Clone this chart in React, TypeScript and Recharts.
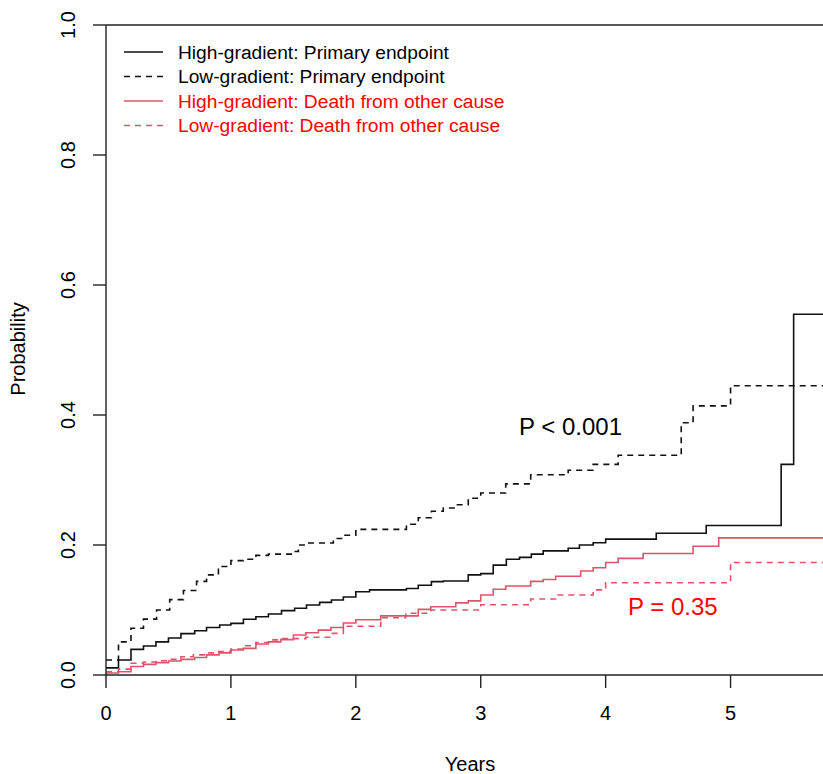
import React from 'react';
import { LineChart, Line, XAxis, YAxis, ReferenceLine, Customized } from 'recharts';

// cumulative incidence, step functions (value holds from t until next t)
const hiPrimT = [0, 0.1, 0.2, 0.3, 0.4, 0.5, 0.6, 0.71, 0.805, 0.91, 1.0, 1.1, 1.2, 1.3, 1.405, 1.51, 1.605, 1.71, 1.805, 1.9, 2.0, 2.11, 2.405, 2.5, 2.605, 2.7, 2.9, 3.0, 3.1, 3.205, 3.31, 3.405, 3.5, 3.7, 3.79, 3.9, 4.0, 4.405, 4.805, 5.405, 5.505, 5.74];
const hiPrimV = [0.011, 0.023, 0.0395, 0.0446, 0.051, 0.057, 0.0636, 0.068, 0.073, 0.077, 0.0795, 0.0857, 0.0897, 0.0938, 0.099, 0.1026, 0.1077, 0.1118, 0.1154, 0.12, 0.128, 0.131, 0.133, 0.138, 0.1436, 0.1446, 0.154, 0.156, 0.169, 0.178, 0.181, 0.186, 0.191, 0.195, 0.2, 0.2035, 0.209, 0.218, 0.23, 0.324, 0.555, 0.555];

const loPrimT = [0, 0.1, 0.2, 0.3, 0.405, 0.51, 0.62, 0.725, 0.805, 0.9, 1.0, 1.1, 1.2, 1.3, 1.5, 1.54, 1.6, 1.82, 1.9, 2.0, 2.405, 2.5, 2.605, 2.7, 2.8, 2.9, 3.0, 3.2, 3.4, 3.7, 3.9, 4.1, 4.605, 4.7, 5.0, 5.74];
const loPrimV = [0.023, 0.051, 0.072, 0.086, 0.1, 0.116, 0.13, 0.144, 0.154, 0.167, 0.176, 0.178, 0.184, 0.186, 0.19, 0.2, 0.203, 0.21, 0.215, 0.224, 0.232, 0.242, 0.252, 0.257, 0.262, 0.272, 0.28, 0.294, 0.308, 0.315, 0.324, 0.338, 0.388, 0.414, 0.445, 0.445];

const hiOtherT = [0, 0.1, 0.2, 0.3, 0.4, 0.5, 0.6, 0.71, 0.805, 0.905, 1.0, 1.1, 1.2, 1.3, 1.4, 1.5, 1.6, 1.7, 1.8, 1.9, 2.0, 2.2, 2.5, 2.6, 2.8, 2.9, 3.0, 3.1, 3.2, 3.4, 3.5, 3.6, 3.8, 3.9, 4.0, 4.1, 4.3, 4.7, 4.905, 5.74];
const hiOtherV = [0.003, 0.005, 0.013, 0.0164, 0.019, 0.0215, 0.024, 0.027, 0.031, 0.034, 0.0385, 0.041, 0.0477, 0.051, 0.0544, 0.0615, 0.065, 0.069, 0.073, 0.08, 0.085, 0.091, 0.101, 0.105, 0.111, 0.114, 0.123, 0.132, 0.137, 0.144, 0.147, 0.152, 0.16, 0.165, 0.173, 0.1795, 0.187, 0.198, 0.211, 0.211];

const loOtherT = [0, 0.1, 0.2, 0.3, 0.4, 0.5, 0.6, 0.7, 0.8, 0.9, 1.0, 1.1, 1.2, 1.3, 1.4, 1.6, 1.8, 1.9, 2.2, 2.4, 2.6, 3.0, 3.4, 3.6, 3.9, 4.0, 5.0, 5.74];
const loOtherV = [0.005, 0.009, 0.018, 0.02, 0.022, 0.024, 0.028, 0.031, 0.034, 0.036, 0.04, 0.045, 0.05, 0.054, 0.056, 0.058, 0.064, 0.075, 0.088, 0.095, 0.1, 0.108, 0.117, 0.123, 0.131, 0.142, 0.173, 0.173];

const xTicks = [0, 1, 2, 3, 4, 5];
const yTicks = [0, 0.2, 0.4, 0.6, 0.8, 1.0];

const legendLabels = [
  'High-gradient: Primary endpoint',
  'Low-gradient: Primary endpoint',
  'High-gradient: Death from other cause',
  'Low-gradient: Death from other cause',
];

const zip = (t: number[], v: number[]) => t.map((x, i) => ({ t: x, v: v[i] }));

const FONT = '"Liberation Sans", Arial, sans-serif';
const BLACK = '#111';
const PINK = '#DF536B';
const DASH = '6 5';

const styles = [
  { stroke: BLACK, dash: undefined, text: '#000' },
  { stroke: BLACK, dash: DASH, text: '#000' },
  { stroke: PINK, dash: undefined, text: '#FF0000' },
  { stroke: PINK, dash: DASH, text: '#FF0000' },
];

const YTick = (props: any) => {
  const { x, y, payload } = props;
  const lx = x - 16;
  return (
    <text x={lx} y={y} transform={`rotate(-90, ${lx}, ${y})`} textAnchor="middle" fontSize={20} fontFamily={FONT} fill="#000">
      {payload.value.toFixed(1)}
    </text>
  );
};

const XTick = (props: any) => {
  const { x, y, payload } = props;
  return (
    <text x={x} y={y + 30} textAnchor="middle" fontSize={20} fontFamily={FONT} fill="#000">
      {payload.value}
    </text>
  );
};

const Annotations = () => (
  <g fontFamily={FONT}>
    {legendLabels.map((label, i) => {
      const y = 52 + i * 24.5;
      const s = styles[i];
      return (
        <g key={label}>
          <line x1={124} x2={163} y1={y} y2={y} stroke={s.stroke} strokeWidth={1.5} strokeDasharray={s.dash} />
          <text x={178} y={y + 6.5} fontSize={19.2} fill={s.text}>
            {label}
          </text>
        </g>
      );
    })}
    <text x={519} y={435} fontSize={24} fill="#000">P &lt; 0.001</text>
    <text x={628} y={615} fontSize={24} fill="#FF0000">P = 0.35</text>
    <text x={25} y={349} transform="rotate(-90, 25, 349)" textAnchor="middle" fontSize={20} fill="#000">
      Probability
    </text>
    <text x={470} y={771} textAnchor="middle" fontSize={20} fill="#000">
      Years
    </text>
  </g>
);

const series = [
  zip(hiPrimT, hiPrimV),
  zip(loPrimT, loPrimV),
  zip(hiOtherT, hiOtherV),
  zip(loOtherT, loOtherV),
];

const App = () => {
  return (
    <div style={{ position: 'absolute', left: 0, top: 0, width: 823, height: 774, background: '#fff' }}>
      <LineChart width={823} height={774} margin={{ top: 25, right: 0, bottom: 0, left: 0 }}>
        <XAxis
          type="number"
          dataKey="t"
          domain={[0, 5.74]}
          ticks={xTicks}
          allowDataOverflow
          height={99}
          tickSize={13}
          axisLine={{ stroke: '#222', strokeWidth: 1.4 }}
          tickLine={{ stroke: '#222', strokeWidth: 1.4 }}
          tick={<XTick />}
        />
        <YAxis
          type="number"
          domain={[0, 1]}
          ticks={yTicks}
          width={106}
          tickSize={13}
          axisLine={{ stroke: '#222', strokeWidth: 1.4 }}
          tickLine={{ stroke: '#222', strokeWidth: 1.4 }}
          tick={<YTick />}
        />
        <ReferenceLine y={1} stroke="#222" strokeWidth={1.4} />
        {series.map((d, i) => (
          <Line
            key={i}
            data={d}
            dataKey="v"
            type="stepAfter"
            stroke={styles[i].stroke}
            strokeWidth={1.6}
            strokeDasharray={styles[i].dash}
            dot={false}
            activeDot={false}
            isAnimationActive={false}
          />
        ))}
        <Customized component={Annotations} />
      </LineChart>
    </div>
  );
};

export default App;
